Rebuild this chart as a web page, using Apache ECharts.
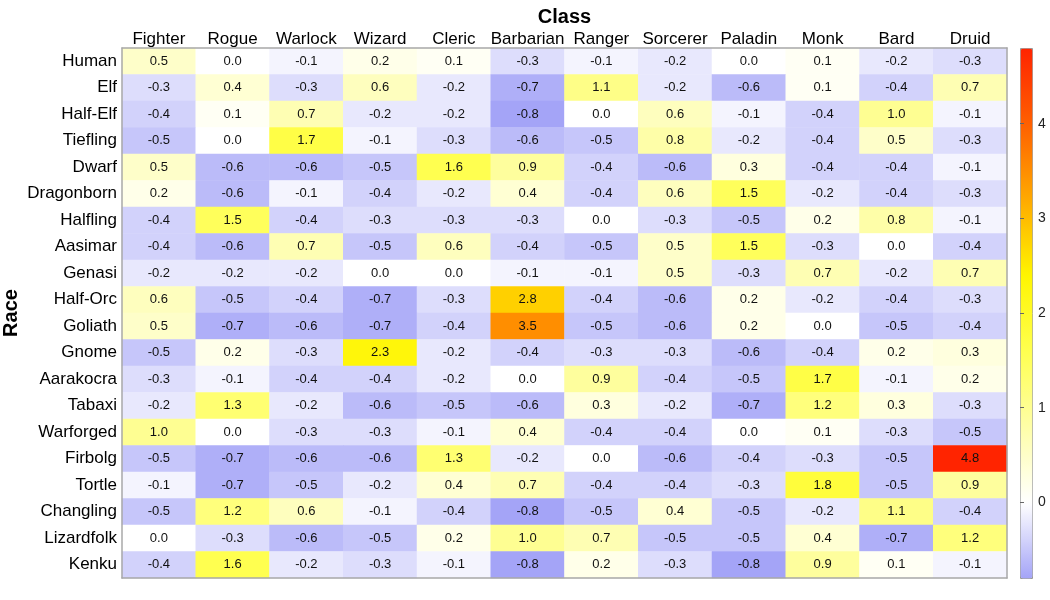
<!DOCTYPE html>
<html>
<head>
<meta charset="utf-8">
<script src="https://cdn.jsdelivr.net/npm/echarts@6/dist/echarts.min.js"></script>
<style>
  html, body { margin: 0; padding: 0; background: #fff; }
  #main { width: 1050px; height: 600px; }
</style>
</head>
<body>
<div id="main"></div>
<script>
const classes = ['Fighter', 'Rogue', 'Warlock', 'Wizard', 'Cleric', 'Barbarian',
  'Ranger', 'Sorcerer', 'Paladin', 'Monk', 'Bard', 'Druid']
const races = ['Human', 'Elf', 'Half-Elf', 'Tiefling', 'Dwarf', 'Dragonborn', 'Halfling',
  'Aasimar', 'Genasi', 'Half-Orc', 'Goliath', 'Gnome', 'Aarakocra', 'Tabaxi',
  'Warforged', 'Firbolg', 'Tortle', 'Changling', 'Lizardfolk', 'Kenku']

// one row per race, columns in class order
const human      = [0.5, 0.0, -0.1, 0.2, 0.1, -0.3, -0.1, -0.2, 0.0, 0.1, -0.2, -0.3]
const elf        = [-0.3, 0.4, -0.3, 0.6, -0.2, -0.7, 1.1, -0.2, -0.6, 0.1, -0.4, 0.7]
const halfElf    = [-0.4, 0.1, 0.7, -0.2, -0.2, -0.8, 0.0, 0.6, -0.1, -0.4, 1.0, -0.1]
const tiefling   = [-0.5, 0.0, 1.7, -0.1, -0.3, -0.6, -0.5, 0.8, -0.2, -0.4, 0.5, -0.3]
const dwarf      = [0.5, -0.6, -0.6, -0.5, 1.6, 0.9, -0.4, -0.6, 0.3, -0.4, -0.4, -0.1]
const dragonborn = [0.2, -0.6, -0.1, -0.4, -0.2, 0.4, -0.4, 0.6, 1.5, -0.2, -0.4, -0.3]
const halfling   = [-0.4, 1.5, -0.4, -0.3, -0.3, -0.3, 0.0, -0.3, -0.5, 0.2, 0.8, -0.1]
const aasimar    = [-0.4, -0.6, 0.7, -0.5, 0.6, -0.4, -0.5, 0.5, 1.5, -0.3, 0.0, -0.4]
const genasi     = [-0.2, -0.2, -0.2, 0.0, 0.0, -0.1, -0.1, 0.5, -0.3, 0.7, -0.2, 0.7]
const halfOrc    = [0.6, -0.5, -0.4, -0.7, -0.3, 2.8, -0.4, -0.6, 0.2, -0.2, -0.4, -0.3]
const goliath    = [0.5, -0.7, -0.6, -0.7, -0.4, 3.5, -0.5, -0.6, 0.2, 0.0, -0.5, -0.4]
const gnome      = [-0.5, 0.2, -0.3, 2.3, -0.2, -0.4, -0.3, -0.3, -0.6, -0.4, 0.2, 0.3]
const aarakocra  = [-0.3, -0.1, -0.4, -0.4, -0.2, 0.0, 0.9, -0.4, -0.5, 1.7, -0.1, 0.2]
const tabaxi     = [-0.2, 1.3, -0.2, -0.6, -0.5, -0.6, 0.3, -0.2, -0.7, 1.2, 0.3, -0.3]
const warforged  = [1.0, 0.0, -0.3, -0.3, -0.1, 0.4, -0.4, -0.4, 0.0, 0.1, -0.3, -0.5]
const firbolg    = [-0.5, -0.7, -0.6, -0.6, 1.3, -0.2, 0.0, -0.6, -0.4, -0.3, -0.5, 4.8]
const tortle     = [-0.1, -0.7, -0.5, -0.2, 0.4, 0.7, -0.4, -0.4, -0.3, 1.8, -0.5, 0.9]
const changling  = [-0.5, 1.2, 0.6, -0.1, -0.4, -0.8, -0.5, 0.4, -0.5, -0.2, 1.1, -0.4]
const lizardfolk = [0.0, -0.3, -0.6, -0.5, 0.2, 1.0, 0.7, -0.5, -0.5, 0.4, -0.7, 1.2]
const kenku      = [-0.4, 1.6, -0.2, -0.3, -0.1, -0.8, 0.2, -0.3, -0.8, 0.9, 0.1, -0.1]

const rows = [human, elf, halfElf, tiefling, dwarf, dragonborn, halfling, aasimar, genasi,
  halfOrc, goliath, gnome, aarakocra, tabaxi, warforged, firbolg, tortle, changling,
  lizardfolk, kenku]

const colorTicks = [0, 1, 2, 3, 4]

function main() {
  var data = []
  rows.forEach(function (row, r) {
    row.forEach(function (v, c) {
      data.push([c, r, v])
    })
  })
  draw(data)
}

function draw(data) {
  var font = "'Liberation Sans', Arial, sans-serif"
  var myChart = echarts.init(document.getElementById('main'))
  var option = {
    backgroundColor: '#fff',
    animation: false,
    textStyle: { fontFamily: font },
    grid: [
      { left: 122, top: 48, width: 885, height: 530, containLabel: false, outerBoundsMode: 'none' },
      { left: 1020, top: 48, width: 12, height: 530, containLabel: false, outerBoundsMode: 'none' }
    ],
    xAxis: [
      {
        type: 'category',
        data: classes,
        position: 'top',
        z: 10,
        name: 'Class',
        nameLocation: 'middle',
        nameGap: 21,
        nameMoveOverlap: false,
        nameTextStyle: { fontSize: 20, fontWeight: 'bold', color: '#000', fontFamily: font },
        axisLine: { show: true, lineStyle: { color: '#a8a8a8', width: 1.5 } },
        axisTick: { show: false },
        axisLabel: { interval: 0, fontSize: 17, color: '#000', margin: 0, fontFamily: font },
        splitLine: { show: false }
      },
      {
        type: 'category',
        data: classes,
        position: 'bottom',
        z: 10,
        axisLine: { show: true, lineStyle: { color: '#a8a8a8', width: 1.5 } },
        axisTick: { show: false },
        axisLabel: { show: false }
      },
      { gridIndex: 1, type: 'value', show: false, min: 0, max: 1 }
    ],
    yAxis: [
      {
        type: 'category',
        data: races,
        inverse: true,
        z: 10,
        name: 'Race',
        nameLocation: 'middle',
        nameRotate: 90,
        nameGap: 101,
        nameMoveOverlap: false,
        nameTextStyle: { fontSize: 20, fontWeight: 'bold', color: '#000', fontFamily: font },
        axisLine: { show: true, lineStyle: { color: '#a8a8a8', width: 1.5 } },
        axisTick: { show: false },
        axisLabel: { interval: 0, fontSize: 17, color: '#000', margin: 5, fontFamily: font },
        splitLine: { show: false }
      },
      {
        type: 'category',
        data: races,
        inverse: true,
        position: 'right',
        z: 10,
        axisLine: { show: true, lineStyle: { color: '#a8a8a8', width: 1.5 } },
        axisTick: { show: false },
        axisLabel: { show: false }
      },
      {
        gridIndex: 1,
        type: 'value',
        position: 'right',
        min: -0.8,
        max: 4.8,
        z: 10,
        axisLine: { show: false },
        axisTick: {
          show: true,
          length: 4,
          customValues: colorTicks,
          lineStyle: { color: '#666' }
        },
        axisLabel: {
          customValues: colorTicks,
          fontSize: 14,
          color: '#222',
          margin: 6,
          fontFamily: font
        },
        splitLine: { show: false }
      }
    ],
    visualMap: {
      type: 'continuous',
      seriesIndex: 0,
      min: -0.8,
      max: 4.8,
      calculable: false,
      show: true,
      left: 1020,
      top: 48,
      itemWidth: 12,
      itemHeight: 530,
      padding: 0,
      text: null,
      showLabel: false,
      borderColor: '#999',
      borderWidth: 1,
      inRange: {
        color: ['#a4a4f7', '#ffffff', '#fefea8', '#ffff50', '#fff500',
          '#ffaa00', '#ff6000', '#ff2400']
      }
    },
    series: [
      {
        type: 'heatmap',
        xAxisIndex: 0,
        yAxisIndex: 0,
        data: data,
        label: {
          show: true,
          fontSize: 13,
          color: '#111',
          fontFamily: font,
          formatter: function (p) { return p.value[2].toFixed(1) }
        },
        itemStyle: { borderWidth: 0 },
        emphasis: { disabled: true }
      },
      {
        type: 'scatter',
        xAxisIndex: 2,
        yAxisIndex: 2,
        data: [],
        silent: true
      }
    ]
  }
  myChart.setOption(option)
}

window.onload = main
</script>
</body>
</html>
